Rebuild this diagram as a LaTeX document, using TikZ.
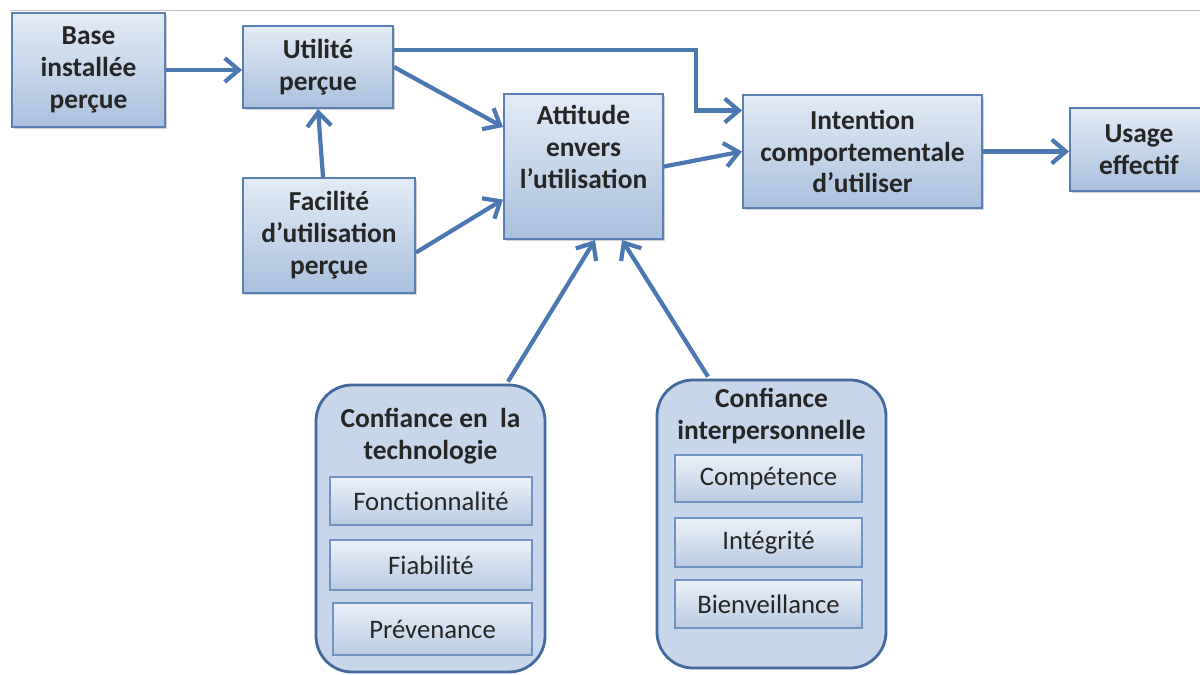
\documentclass[tikz,border=0pt]{standalone}
\usepackage{fontspec}
\setmainfont{Carlito}
\usetikzlibrary{arrows.meta,shadows,calc}
\definecolor{boxtop}{HTML}{E3EBF6}
\definecolor{boxbot}{HTML}{A9C0DE}
\definecolor{boxborder}{HTML}{5A80B3}
\definecolor{arrowc}{HTML}{4C78B2}
\definecolor{textc}{HTML}{262626}
\definecolor{contfill}{HTML}{C7D6EA}
\definecolor{contborder}{HTML}{436A9C}
\definecolor{intop}{HTML}{EBF0F8}
\definecolor{inbot}{HTML}{B9CBE3}
\definecolor{inborder}{HTML}{6F93C2}
\newcommand\mkbox[7]{\node[#7, minimum width={(#4-#2)*0.025cm}, minimum height={(#5-#3)*0.025cm}] (#1) at ({(#2+#4)/2},{(#3+#5)/2}) {#6};}
\tikzset{
  bluebox/.style={draw=boxborder, line width=1.4pt, top color=boxtop, bottom color=boxbot,
    text=textc, font=\bfseries\fontsize{19.5}{22.7}\selectfont, align=center, inner sep=0pt,
    drop shadow={shadow xshift=1.5pt, shadow yshift=-1.5pt, opacity=0.35}},
  container/.style={draw=contborder, line width=2pt, fill=contfill, rounded corners=0.9cm, inner sep=0pt},
  innerbox/.style={draw=inborder, line width=1pt, top color=intop, bottom color=inbot,
    text=textc, font=\fontsize{19}{22}\selectfont, inner sep=0pt,
    drop shadow={shadow xshift=1pt, shadow yshift=-1pt, opacity=0.3}},
  ctitle/.style={text=textc, font=\bfseries\fontsize{19.5}{22.7}\selectfont, align=center, inner sep=0pt},
  attext/.style={text=textc, font=\bfseries\fontsize{19.5}{22.7}\selectfont, align=center, inner sep=0pt},
  arr/.style={draw=arrowc, line width=3pt, -{Straight Barb[length=10pt, width=17pt, line width=3pt]}}
}
\begin{document}
\begin{tikzpicture}[x=0.025cm, y=-0.025cm]
\useasboundingbox (0,0) rectangle (1200,675);
\draw[gray!50, line width=0.6pt] (10,10) -- (1200,10);

\mkbox{base}{12}{13}{165}{127}{Base\\installée\\perçue}{bluebox}
\mkbox{util}{243}{26}{393}{108}{Utilité\\perçue}{bluebox}
\mkbox{fac}{243}{178}{415}{293}{Facilité\\d’utilisation\\perçue}{bluebox}
\mkbox{att}{504}{94}{663}{239}{}{bluebox}
\node[attext, anchor=north] (att-t) at ($(att.north)+(0,12)$) {Attitude\\envers\\l’utilisation};
\mkbox{int}{743}{95}{982}{208}{Intention\\comportementale\\d’utiliser}{bluebox}
\mkbox{use}{1070}{108}{1208}{191}{Usage\\effectif}{bluebox}

\mkbox{ct}{316}{385}{545}{672}{}{container}
\node[ctitle] (ct-t) at (430.5,436) {Confiance en\ \ la\\technologie};
\mkbox{fon}{330}{477}{532}{525}{Fonctionnalité}{innerbox}
\mkbox{fia}{330}{540}{532}{590}{Fiabilité}{innerbox}
\mkbox{pre}{333}{603}{532}{655}{Prévenance}{innerbox}

\mkbox{ci}{657}{380}{886}{668}{}{container}
\node[ctitle] (ci-t) at (771.5,416) {Confiance\\interpersonnelle};
\mkbox{com}{675}{455}{862}{502}{Compétence}{innerbox}
\mkbox{inte}{675}{518}{862}{567}{Intégrité}{innerbox}
\mkbox{bie}{675}{580}{862}{628}{Bienveillance}{innerbox}

\draw[arr] (base.east) -- (util.west |- base.east);
\draw[arr] ($(util.east)+(0,-17)$) -| ($(int.west)+(-46,-41)$) -- ($(int.west)+(0,-41)$);
\draw[arr] (util.east) -- ($(att.west)+(0,-39.5)$);
\draw[arr] ($(fac.north)+(-6,0)$) -- (util.south);
\draw[arr] ($(fac.east)+(0,17)$) -- ($(att.west)+(0,33)$);
\draw[arr] (att.east) -- (int.west);
\draw[arr] (int.east) -- (use.west |- int.east);
\draw[arr] ($(ct.north)+(77.5,-2)$) -- ($(att.south)+(11.5,0)$);
\draw[arr] ($(ci.north)+(-63.5,-2)$) -- ($(att.south)+(38.5,0)$);
\end{tikzpicture}
\end{document}
